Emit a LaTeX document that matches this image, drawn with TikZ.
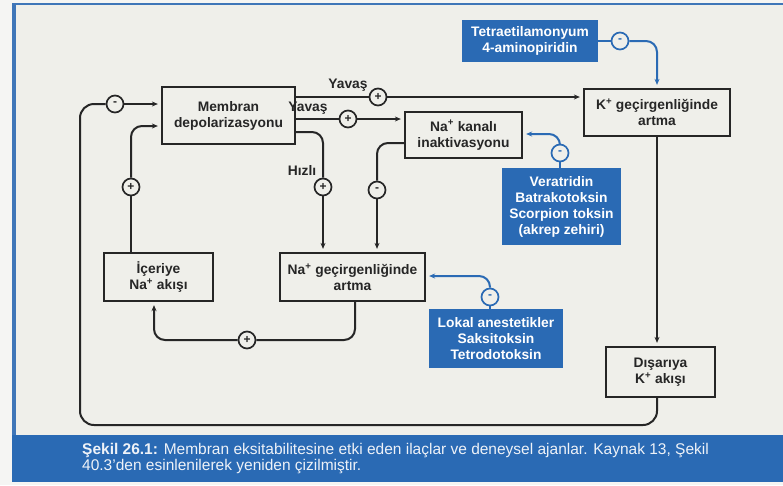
\documentclass[tikz,border=0pt]{standalone}
\usepackage{fontspec}
\setmainfont{Liberation Sans}
\usetikzlibrary{arrows.meta}
\definecolor{bg}{HTML}{EFEFEA}
\definecolor{outer}{HTML}{F5F5F3}
\definecolor{bblue}{HTML}{2A6AB4}
\definecolor{frameblue}{HTML}{3F76B8}
\definecolor{ink}{HTML}{262626}
\definecolor{captxt}{HTML}{EEF2F8}
\begin{document}
\begin{tikzpicture}[x=1pt,y=-1pt,
  txt/.style={font=\fontsize{13.8}{16}\selectfont\bfseries},
  box/.style={txt,draw=ink,line width=2.3pt,fill=bg,align=center,text=ink,inner sep=0pt},
  bluebox/.style={txt,fill=bblue,align=center,text=white,inner sep=0pt},
  sign/.style={circle,draw=ink,line width=1.7pt,fill=bg,minimum size=17pt,inner sep=0pt,font=\fontsize{12}{12}\selectfont\bfseries,text=ink},
  bsign/.style={sign,draw=bblue,text=bblue},
  conn/.style={draw=ink,line width=2pt,rounded corners=11pt},
  arr/.style={conn,-{Stealth[length=6pt,width=5pt]},shorten >=3pt},
  bconn/.style={conn,draw=bblue},
  barr/.style={arr,draw=bblue},
  lbl/.style={txt,text=ink,inner sep=0pt}]
\useasboundingbox (0,0) rectangle (783,485);
\fill[outer] (0,0) rectangle (783,485);
\fill[bg] (16,5) rectangle (783,435);
\fill[frameblue] (12,3) rectangle (783,5);
\fill[frameblue] (12,3) rectangle (16,435);
\fill[bblue] (12,435) rectangle (783,482);

% boxes
\node[box,minimum width=133pt,minimum height=57pt] (mem) at (228.5,115.5) {Membran\\depolarizasyonu};
\node[box,minimum width=117pt,minimum height=46pt] (nk) at (463.5,135) {Na\textsuperscript{+} kanalı\\inaktivasyonu};
\node[box,minimum width=146pt,minimum height=47pt] (k) at (657,112.5) {K\textsuperscript{+} geçirgenliğinde\\artma};
\node[bluebox,minimum width=136pt,minimum height=42pt] (tet) at (530,41) {Tetraetilamonyum\\4-aminopiridin};
\node[bluebox,minimum width=119pt,minimum height=77pt] (ver) at (561.5,206.5) {Veratridin\\Batrakotoksin\\Scorpion toksin\\(akrep zehiri)};
\node[box,minimum width=109pt,minimum height=48pt] (ic) at (158.5,277) {İçeriye\\Na\textsuperscript{+} akışı};
\node[box,minimum width=145pt,minimum height=48pt] (ng) at (352.5,277) {Na\textsuperscript{+} geçirgenliğinde\\artma};
\node[bluebox,minimum width=134pt,minimum height=59pt] (lok) at (496,338.5) {Lokal anestetikler\\Saksitoksin\\Tetrodotoksin};
\node[box,minimum width=109pt,minimum height=50pt] (dis) at (660.5,372) {Dışarıya\\K\textsuperscript{+} akışı};

% signs
\node[sign] (m1) at (115,104) {-};
\node[sign] (p1) at (131,187) {+};
\node[sign] (p2) at (378,97) {+};
\node[sign] (p3) at (348,119) {+};
\node[sign] (p4) at (323,187) {+};
\node[sign] (m2) at (377,190) {-};
\node[sign] (p5) at (247,340) {+};
\node[bsign] (m3) at (620,41) {-};
\node[bsign] (m4) at (560,153) {-};
\node[bsign] (m5) at (490,297) {-};

% connectors
\draw[conn,rounded corners=14pt] (k.south |- dis.south) -- (k.south |- 0,425) -- (80,425) -- (80,104) -- (m1);
\draw[arr] (m1) -- (mem.west |- m1);
\draw[conn] (ic.north -| p1) -- (p1);
\draw[arr] (p1) -- (p1 |- 0,126) -- (mem.west |- 0,126);
\draw[conn] (mem.east |- p2) -- (p2);
\draw[arr] (p2) -- (k.west |- p2);
\draw[conn] (mem.east |- p3) -- (p3);
\draw[arr] (p3) -- (nk.west |- p3);
\draw[conn] (mem.east |- 0,132) -- (p4 |- 0,132) -- (p4);
\draw[arr] (p4) -- (p4 |- ng.north);
\draw[conn] (nk.west |- 0,143) -- (m2 |- 0,143) -- (m2);
\draw[arr] (m2) -- (m2 |- ng.north);
\draw[conn] (355,0 |- ng.south) -- (355,340) -- (p5);
\draw[arr] (p5) -- (154,340) -- (154,0 |- ic.south);
\draw[arr] (k.south) -- (k.south |- dis.north);
\draw[bconn] (tet.east |- m3) -- (m3);
\draw[barr] (m3) -- (k.north |- m3) -- (k.north);
\draw[bconn] (ver.north -| m4) -- (m4);
\draw[barr] (m4) -- (m4 |- 0,134) -- (nk.east |- 0,134);
\draw[bconn] (lok.north -| m5) -- (m5);
\draw[barr] (m5) -- (m5 |- 0,276) -- (ng.east |- 0,276);

% labels
\node[lbl] (y1) at (348,85) {Yavaş};
\node[lbl] (y2) at (308,108) {Yavaş};
\node[lbl] (hz) at (302,170) {Hızlı};

% caption
\node[anchor=base west,text=captxt,font=\fontsize{15.5}{15.5}\selectfont,align=left,inner sep=0pt] (cap) at (82,470)
  {\textbf{Şekil 26.1:} Membran eksitabilitesine etki eden ilaçlar ve deneysel ajanlar. Kaynak 13, Şekil\\40.3’den esinlenilerek yeniden çizilmiştir.};
\end{tikzpicture}
\end{document}
